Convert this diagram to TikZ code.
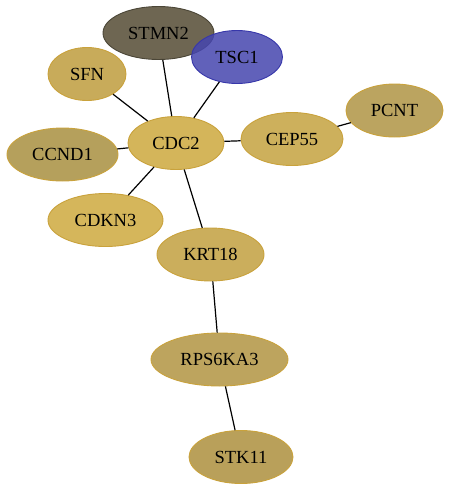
\documentclass[tikz,border=0pt]{standalone}
\usepackage{fontspec}
\setmainfont{Liberation Serif}
\usetikzlibrary{shapes.geometric}
\definecolor{bd}{HTML}{C9A23C}
\tikzset{
  gene/.style={ellipse, draw=bd, line width=0.9pt, minimum height=53pt, inner sep=0pt,
     font=\fontsize{18.5}{21}\selectfont, text=black},
  link/.style={draw=black, line width=1.2pt},
}
\begin{document}
\begin{tikzpicture}[x=1pt,y=-1pt]
\useasboundingbox (0,0) rectangle (449,491);
\fill[white] (0,0) rectangle (449,491);
\node[gene, minimum width=111pt, fill={rgb,255:red,110;green,102;blue,82}, draw={rgb,255:red,75;green,70;blue,55}] (STMN2) at (158.5,33) {STMN2};
\node[gene, minimum width=91pt, fill={rgb,255:red,70;green,70;blue,175}, fill opacity=0.85, text opacity=1, draw={rgb,255:red,55;green,55;blue,170}] (TSC1) at (237,57) {TSC1};
\node[gene, minimum width=78pt, fill={rgb,255:red,200;green,171;blue,90}] (SFN) at (87,74) {SFN};
\node[gene, minimum width=96pt, fill={rgb,255:red,212;green,181;blue,90}] (CDC2) at (176,143) {CDC2};
\node[gene, minimum width=102pt, fill={rgb,255:red,205;green,176;blue,92}] (CEP55) at (292,139) {CEP55};
\node[gene, minimum width=97pt, fill={rgb,255:red,187;green,164;blue,96}] (PCNT) at (394.5,110.5) {PCNT};
\node[gene, minimum width=111pt, fill={rgb,255:red,181;green,160;blue,92}] (CCND1) at (62.5,154.5) {CCND1};
\node[gene, minimum width=115pt, fill={rgb,255:red,213;green,182;blue,91}] (CDKN3) at (105.5,220) {CDKN3};
\node[gene, minimum width=107pt, fill={rgb,255:red,203;green,174;blue,92}] (KRT18) at (210.5,254.5) {KRT18};
\node[gene, minimum width=137pt, fill={rgb,255:red,189;green,164;blue,94}] (RPS6KA3) at (219.5,359.5) {RPS6KA3};
\node[gene, minimum width=104pt, fill={rgb,255:red,185;green,160;blue,90}] (STK11) at (241,457) {STK11};
\path[link] (CDC2) -- (STMN2);
\path[link] (CDC2) -- (TSC1);
\path[link] (CDC2) -- (SFN);
\path[link] (CDC2) -- (CCND1);
\path[link] (CDC2) -- (CEP55);
\path[link] (CDC2) -- (CDKN3);
\path[link] (CDC2) -- (KRT18);
\path[link] (CEP55) -- (PCNT);
\path[link] (KRT18) -- (RPS6KA3);
\path[link] (RPS6KA3) -- (STK11);
\end{tikzpicture}
\end{document}
